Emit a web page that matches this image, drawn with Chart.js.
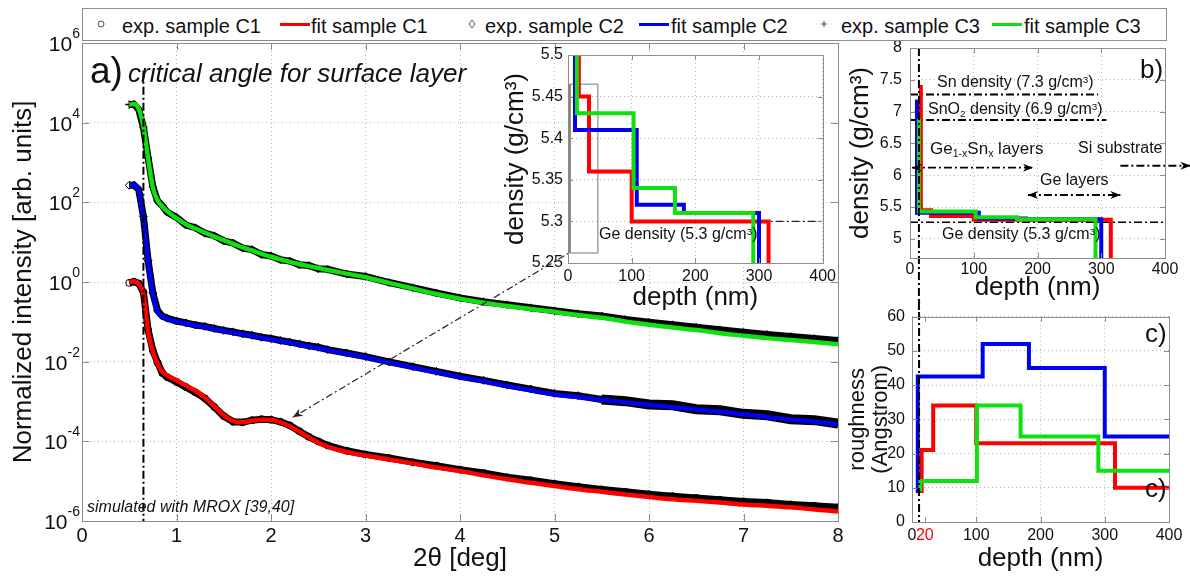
<!DOCTYPE html>
<html>
<head>
<meta charset="utf-8">
<script src="https://cdn.jsdelivr.net/npm/chart.js@4.4.0/dist/chart.umd.min.js"></script>
<style>
  body { margin: 0; background: #fff; width: 1190px; height: 576px; overflow: hidden; position: relative;
         font-family: "Liberation Sans", Arial, Helvetica, sans-serif; }
  canvas { position: absolute; }
  .t { position: absolute; white-space: nowrap; color: #111; line-height: 1; }
  .it { font-style: italic; }
  .up { position: relative; top: -0.45em; font-size: 0.62em; }
  .dn { position: relative; top: 0.3em; font-size: 0.62em; }
  #legend { position: absolute; left: 82px; top: 8px; width: 1083px; height: 31px; border: 1px solid #8c8c8c; background: #fff; }
  #legend .t { font-size: 20px; top: 7px; }
  #legend .ln { position: absolute; top: 14px; height: 3px; width: 30px; }
  #legend svg { position: absolute; top: 10px; }
</style>
</head>
<body>
<canvas id="main" width="1190" height="576" style="left:0;top:0"></canvas>
<canvas id="inset" width="345" height="280" style="left:495px;top:38px"></canvas>
<canvas id="profile" width="360" height="280" style="left:830px;top:30px"></canvas>
<canvas id="rough" width="360" height="276" style="left:830px;top:300px"></canvas>

<div id="legend">
  <svg width="10" height="10" style="left:13px"><circle cx="5" cy="5" r="3" fill="none" stroke="#555" stroke-width="1"/></svg>
  <span class="t" style="left:39px">exp. sample C1</span>
  <div class="ln" style="left:197px;background:#ff0000"></div>
  <span class="t" style="left:228px">fit sample C1</span>
  <svg width="10" height="10" style="left:384px"><path d="M5 1 L8 5 L5 9 L2 5 Z" fill="none" stroke="#555" stroke-width="1"/></svg>
  <span class="t" style="left:402px">exp. sample C2</span>
  <div class="ln" style="left:556px;background:#0000f0"></div>
  <span class="t" style="left:588px">fit sample C2</span>
  <svg width="10" height="10" style="left:736px"><path d="M5 2 L5 8 M2 5 L8 5" stroke="#555" stroke-width="1.2"/></svg>
  <span class="t" style="left:758px">exp. sample C3</span>
  <div class="ln" style="left:909px;background:#10e010"></div>
  <span class="t" style="left:941px">fit sample C3</span>
</div>

<span class="t" style="left:90px;top:52px;font-size:37px">a)</span>
<span class="t it" style="left:128px;top:60px;font-size:26px">critical angle for surface layer</span>
<span class="t it" style="left:87px;top:499px;font-size:16px">simulated with MROX [39,40]</span>
<span class="t" style="left:599px;top:226px;font-size:16px">Ge density (5.3 g/cm<span class="up">3</span>)</span>

<span class="t" style="left:937px;top:74px;font-size:16px">Sn density (7.3 g/cm<span class="up">3</span>)</span>
<span class="t" style="left:928px;top:101px;font-size:16px">SnO<span class="dn">2</span> density (6.9 g/cm<span class="up">3</span>)</span>
<span class="t" style="left:930px;top:140px;font-size:17px">Ge<span class="dn">1-x</span>Sn<span class="dn">x</span> layers</span>
<span class="t" style="left:1078px;top:140px;font-size:16px">Si substrate</span>
<span class="t" style="left:1040px;top:172px;font-size:16px">Ge layers</span>
<span class="t" style="left:942px;top:226px;font-size:16px">Ge density (5.3 g/cm<span class="up">3</span>)</span>
<span class="t" style="left:1140px;top:56px;font-size:26px">b)</span>
<span class="t" style="left:1145px;top:320px;font-size:26px">c)</span>
<span class="t" style="left:1145px;top:475px;font-size:26px">c)</span>

<script>
// ---- panel a: reflectivity curves ----
const thetaDeg = [0.50, 0.55, 0.60, 0.65, 0.70, 0.75, 0.80, 0.85, 0.90,
  1.00, 1.10, 1.20, 1.30, 1.40, 1.50, 1.60, 1.70, 1.80, 1.90, 2.00, 2.10, 2.20, 2.30, 2.40, 2.50, 2.60,
  2.80, 3.00,
  3.25, 3.50, 3.75, 4.00, 4.25, 4.50, 4.75, 5.00, 5.25, 5.50, 5.75, 6.00, 6.25, 6.50, 6.75, 7.00, 7.25, 7.50, 7.75, 8.00];

const fitC1 = [1.0, 1.05, 0.89, 0.5, 5.6e-2, 1.8e-2, 8.9e-3, 5.6e-3, 4.5e-3,
  3.4e-3, 2.5e-3, 1.86e-3, 1.26e-3, 7.6e-4, 4.5e-4, 3.2e-4, 3.0e-4, 3.3e-4, 3.5e-4, 3.5e-4, 3.0e-4, 2.4e-4, 1.74e-4, 1.26e-4, 9.3e-5, 7.4e-5,
  5.4e-5, 4.4e-5,
  3.5e-5, 2.8e-5, 2.2e-5, 1.8e-5, 1.4e-5, 1.12e-5, 9.1e-6, 7.6e-6, 6.3e-6, 5.4e-6, 4.6e-6, 4.0e-6, 3.5e-6, 3.2e-6, 2.9e-6, 2.6e-6, 2.4e-6, 2.2e-6, 1.95e-6, 1.74e-6];
const expC1 = [0.95, 1.02, 0.92, 0.55, 6.2e-2, 1.9e-2, 9.4e-3, 5.2e-3, 4.1e-3,
  3.1e-3, 2.3e-3, 1.7e-3, 1.2e-3, 7.3e-4, 4.3e-4, 3.1e-4, 3.0e-4, 3.4e-4, 3.6e-4, 3.5e-4, 3.1e-4, 2.5e-4, 1.8e-4, 1.3e-4, 1.0e-4, 7.9e-5,
  5.8e-5, 4.7e-5,
  3.8e-5, 3.0e-5, 2.45e-5, 1.95e-5, 1.6e-5, 1.25e-5, 1.05e-5, 8.6e-6, 7.3e-6, 6.2e-6, 5.4e-6, 4.7e-6, 4.2e-6, 3.8e-6, 3.4e-6, 3.1e-6, 2.9e-6, 2.6e-6, 2.4e-6, 2.2e-6];

const fitC2 = [263, 275, 200, 40, 3.16, 0.5, 0.178, 0.135, 0.12,
  0.102, 0.091, 0.081, 0.074, 0.066, 0.059, 0.054, 0.049, 0.044, 0.040, 0.036, 0.033, 0.030, 0.027, 0.024, 0.022, 0.0195,
  0.0158, 0.0129,
  0.0095, 0.0071, 0.0054, 0.0041, 0.0032, 0.00245, 0.0019, 0.0015, 0.00129, 0.0011, 0.00095, 0.00083, 0.00072, 0.00063, 0.00055, 0.00048, 0.00041, 0.00035, 0.00031, 0.00027];
const expC2 = [268, 270, 210, 44, 3.4, 0.53, 0.19, 0.14, 0.124,
  0.105, 0.094, 0.083, 0.077, 0.068, 0.061, 0.056, 0.050, 0.046, 0.041, 0.038, 0.034, 0.031, 0.028, 0.025, 0.023, 0.020,
  0.0165, 0.0134,
  0.0099, 0.0075, 0.0057, 0.0043, 0.0034, 0.0026, 0.00205, 0.0016, 0.0014, 0.00112, 0.00102, 0.00084, 0.0008, 0.00064, 0.0006, 0.00049, 0.00045, 0.00036, 0.00034, 0.00028];

const fitC3 = [28200, 29500, 22400, 7940, 1260, 234, 112, 79, 60,
  40, 28, 22, 17.4, 13.8, 11.2, 9.1, 7.4, 6.2, 5.1, 4.3, 3.7, 3.2, 2.8, 2.5, 2.24, 2.0,
  1.62, 1.32,
  0.95, 0.69, 0.5, 0.38, 0.30, 0.25, 0.21, 0.178, 0.148, 0.126, 0.102, 0.085, 0.072, 0.062, 0.052, 0.045, 0.039, 0.035, 0.031, 0.0275];
const expC3 = [28500, 29000, 21500, 7600, 1300, 245, 108, 82, 57,
  42, 27, 23, 16.8, 14.5, 10.8, 9.5, 7.1, 6.5, 4.9, 4.5, 3.6, 3.35, 2.7, 2.6, 2.15, 2.08,
  1.58, 1.38,
  0.97, 0.72, 0.53, 0.40, 0.32, 0.27, 0.225, 0.19, 0.16, 0.14, 0.115, 0.098, 0.085, 0.073, 0.063, 0.055, 0.048, 0.043, 0.038, 0.034];

const intensityTicks = [1e-6, 1e-4, 1e-2, 1, 1e2, 1e4, 1e6];
const criticalTheta = [0.65, 0.65];
const criticalLevel = [2e5, 1e-6];
const zoomArrowTheta = [5.24, 2.23];
const zoomArrowLevel = [7.1, 4e-4];

// ---- density profiles (inset and panel b) ----
const depthC1 = [17, 17, 33, 33, 100, 100, 315, 315];
const densC1 = [7.42, 5.45, 5.45, 5.36, 5.36, 5.30, 5.30, 4.6];
const depthC2 = [11, 11, 108, 108, 182, 182, 300, 300];
const densC2 = [7.19, 5.41, 5.41, 5.32, 5.32, 5.31, 5.31, 4.6];
const depthC3 = [14, 14, 103, 103, 168, 168, 291, 291];
const densC3 = [6.89, 5.43, 5.43, 5.34, 5.34, 5.31, 5.31, 4.6];

const zoomBoxDepth = [3, 47, 47, 3, 3];
const zoomBoxDens = [5.262, 5.262, 5.465, 5.465, 5.262];
const insetGeDepth = [100, 400];
const insetGeDens = [5.3, 5.3];
const insetDepthTicks = [0, 100, 200, 300, 400];
const insetDensTicks = [5.25, 5.3, 5.35, 5.4, 5.45, 5.5];

const snRefDepth = [0, 295], snRefDens = [7.27, 7.27];
const sno2RefDepth = [0, 308], sno2RefDens = [6.87, 6.87];
const geRefDepth = [0, 400], geRefDens = [5.26, 5.26];
const surfaceMarkDepth = [14, 14], surfaceMarkDens = [8, 3.8];
const geSnArrowDepth = [3, 193], geSnArrowDens = [6.12, 6.12];
const geArrowDepth = [185, 330], geArrowDens = [5.69, 5.69];
const siArrowDepth = [330, 440], siArrowDens = [6.15, 6.15];
const profileDepthTicks = [0, 100, 200, 300, 400];
const profileDensTicks = [5, 5.5, 6, 6.5, 7, 7.5, 8];

// ---- panel c: roughness ----
const roughDepthC1 = [15, 15, 33, 33, 100, 100, 316, 316, 400];
const roughC1 = [8.5, 21, 21, 34, 34, 23, 23, 10, 10];
const roughDepthC2 = [9, 9, 110, 110, 182, 182, 300, 300, 400];
const roughC2 = [8.5, 42.5, 42.5, 52, 52, 45, 45, 25, 25];
const roughDepthC3 = [13, 13, 101, 101, 169, 169, 290, 290, 400];
const roughC3 = [9, 12, 12, 34, 34, 25, 25, 15, 15];
const roughMarkDepth = [11, 11], roughMarkLevel = [66, 0];
const roughDepthTicks = [0, 20, 100, 200, 300, 400];
const roughTicks = [0, 10, 20, 30, 40, 50, 60];

const FONT = '"Liberation Sans", Arial, Helvetica, sans-serif';
const RED = '#ff0000', BLUE = '#0000f0', GREEN = '#10e010';
const GRID = '#b4b4b4', FRAME = '#8c8c8c';
const DASHDOT = [8, 3, 2, 3];

Chart.defaults.font.family = FONT;
Chart.defaults.color = '#111';

const xy = (xs, ys) => xs.map((x, i) => ({ x, y: ys[i] }));
const setTicks = vals => s => { s.ticks = vals.map(v => ({ value: v })); };

// white plot area, box and inward tick marks like MATLAB axes
const frame = {
  id: 'frame',
  beforeDraw(chart) {
    const { ctx, chartArea: a } = chart;
    ctx.save();
    ctx.fillStyle = '#fff';
    ctx.fillRect(a.left, a.top, a.width, a.height);
    ctx.restore();
  },
  afterDatasetsDraw(chart, args, opts) {
    const { ctx, chartArea: a } = chart;
    const L = opts.tick || 5;
    ctx.save();
    ctx.strokeStyle = FRAME;
    ctx.lineWidth = 1;
    ctx.beginPath();
    chart.scales.x.ticks.forEach(t => {
      const p = Math.round(chart.scales.x.getPixelForValue(t.value)) + 0.5;
      ctx.moveTo(p, a.bottom); ctx.lineTo(p, a.bottom - L);
      ctx.moveTo(p, a.top); ctx.lineTo(p, a.top + L);
    });
    chart.scales.y.ticks.forEach(t => {
      const p = Math.round(chart.scales.y.getPixelForValue(t.value)) + 0.5;
      ctx.moveTo(a.left, p); ctx.lineTo(a.left + L, p);
      ctx.moveTo(a.right, p); ctx.lineTo(a.right - L, p);
    });
    ctx.stroke();
    ctx.strokeRect(Math.round(a.left) + 0.5, Math.round(a.top) + 0.5, Math.round(a.width), Math.round(a.height));
    ctx.restore();
  }
};

const arrowHeads = {
  id: 'arrowHeads',
  afterDatasetsDraw(chart) {
    const ctx = chart.ctx;
    chart.data.datasets.forEach((ds, i) => {
      if (!ds.arrowAt) return;
      const pts = chart.getDatasetMeta(i).data;
      ds.arrowAt.forEach(end => {
        const p = end === 'end' ? pts[pts.length - 1] : pts[0];
        const q = end === 'end' ? pts[pts.length - 2] : pts[1];
        const ang = Math.atan2(p.y - q.y, p.x - q.x);
        ctx.save();
        ctx.translate(p.x, p.y);
        ctx.rotate(ang);
        ctx.fillStyle = ds.borderColor;
        ctx.beginPath();
        ctx.moveTo(0, 0);
        ctx.lineTo(-10, -4);
        ctx.lineTo(-7, 0);
        ctx.lineTo(-10, 4);
        ctx.closePath();
        ctx.fill();
        ctx.restore();
      });
    });
  }
};

// 10^n labels for the log axis
const powerLabels = {
  id: 'powerLabels',
  afterDraw(chart) {
    const { ctx } = chart;
    const ys = chart.scales.y;
    ctx.save();
    ctx.fillStyle = '#111';
    ctx.textAlign = 'right';
    ctx.textBaseline = 'alphabetic';
    intensityTicks.forEach(v => {
      const y = ys.getPixelForValue(v);
      const e = String(Math.round(Math.log10(v)));
      ctx.font = '14px ' + FONT;
      const ew = ctx.measureText(e).width;
      ctx.fillText(e, 80, y - 5);
      ctx.font = '21px ' + FONT;
      ctx.fillText('10', 80 - ew, y + 8);
    });
    ctx.restore();
  }
};

const lineSet = (data, color, width, extra) => Object.assign({
  data, borderColor: color, borderWidth: width, pointRadius: 0, fill: false
}, extra || {});

// ---- panel a ----
new Chart(document.getElementById('main'), {
  type: 'line',
  data: {
    datasets: [
      lineSet(xy(criticalTheta, criticalLevel), '#000', 2, { borderDash: DASHDOT, order: 0 }),
      lineSet(xy(zoomArrowTheta, zoomArrowLevel), '#222', 1.2, { borderDash: [7, 3, 2, 3], order: 0, arrowAt: ['end'] }),
      lineSet(xy(thetaDeg, fitC3), GREEN, 4.5, { cubicInterpolationMode: 'monotone', order: 1 }),
      lineSet(xy(thetaDeg, fitC2), BLUE, 4.5, { cubicInterpolationMode: 'monotone', order: 1 }),
      lineSet(xy(thetaDeg, fitC1), RED, 4.5, { cubicInterpolationMode: 'monotone', order: 1 }),
      lineSet(xy(thetaDeg, expC3), '#000', 7, { order: 2, pointStyle: 'cross', pointRadius: 4, pointBorderColor: '#000', pointBorderWidth: 1.5 }),
      lineSet(xy(thetaDeg, expC2), '#000', 7, { order: 2, pointStyle: 'rectRot', pointRadius: 4, pointBorderColor: '#000', pointBackgroundColor: 'rgba(0,0,0,0)', pointBorderWidth: 1,
        segment: { borderWidth: s => (s.p0.parsed.x >= 5.5 ? 10 : 7) } }),
      lineSet(xy(thetaDeg, expC1), '#000', 7, { order: 2, pointStyle: 'circle', pointRadius: 3.5, pointBorderColor: '#000', pointBackgroundColor: 'rgba(0,0,0,0)', pointBorderWidth: 1 })
    ]
  },
  options: {
    responsive: false,
    animation: false,
    events: [],
    layout: { padding: { left: 0, top: 43, right: 352, bottom: 0 } },
    plugins: { legend: { display: false }, tooltip: { enabled: false }, frame: { tick: 7 } },
    scales: {
      x: {
        type: 'linear', min: 0, max: 8,
        ticks: { stepSize: 1, font: { size: 20 }, padding: 3, color: '#111' },
        grid: { color: GRID, drawTicks: false },
        border: { display: false, dash: [1, 3] },
        title: { display: true, text: '2θ [deg]', font: { size: 26 }, padding: { top: 0, bottom: 2 } },
        afterFit: s => { s.height = 55; }
      },
      y: {
        type: 'logarithmic', min: 1e-6, max: 1e6,
        afterBuildTicks: setTicks(intensityTicks),
        ticks: { display: false },
        grid: { color: GRID, drawTicks: false },
        border: { display: false, dash: [1, 3] },
        title: { display: true, text: 'Normalized intensity [arb. units]', font: { size: 26 }, padding: { top: 8 } },
        afterFit: s => { s.width = 82; }
      }
    }
  },
  plugins: [frame, arrowHeads, powerLabels]
});

// ---- small panels ----
function panel(id, c) {
  const fmt = v => String(+Number(v).toFixed(2));
  return new Chart(document.getElementById(id), {
    type: 'line',
    data: { datasets: c.datasets },
    options: {
      responsive: false,
      animation: false,
      events: [],
      layout: { padding: { left: 0, top: c.top, right: c.right, bottom: 0 } },
      plugins: { legend: { display: false }, tooltip: { enabled: false }, frame: { tick: 5 } },
      scales: {
        x: {
          type: 'linear', min: c.xMin, max: c.xMax,
          afterBuildTicks: setTicks(c.xTicks),
          ticks: { autoSkip: false, maxRotation: 0, font: { size: 16 }, padding: c.xPad, callback: fmt,
                   color: ctx => (c.redTick !== undefined && ctx.tick && ctx.tick.value === c.redTick) ? RED : '#111' },
          grid: { drawTicks: false,
                  color: ctx => (c.redTick !== undefined && ctx.tick && ctx.tick.value === c.redTick) ? 'rgba(0,0,0,0)' : GRID },
          border: { display: false, dash: [1, 3] },
          title: { display: true, text: c.xTitle, font: { size: 26 }, padding: { top: 0, bottom: c.xTitlePad } },
          afterFit: s => { s.height = c.xHeight; }
        },
        y: {
          type: 'linear', min: c.yMin, max: c.yMax,
          afterBuildTicks: setTicks(c.yTicks),
          ticks: { autoSkip: false, font: { size: 16 }, padding: c.yPad, callback: fmt, color: '#111' },
          grid: { color: GRID, drawTicks: false },
          border: { display: false, dash: [1, 3] },
          title: { display: true, text: c.yTitle, font: { size: c.yTitleSize || 26, lineHeight: 1.05 }, padding: { top: c.yTitlePad } },
          afterFit: s => { s.width = c.yWidth; }
        }
      }
    },
    plugins: [frame, arrowHeads]
  });
}

// inset: zoom of the density profiles
panel('inset', {
  top: 17, right: 15, xHeight: 55, yWidth: 73, xPad: 4, yPad: 5, xTitlePad: 5, yTitlePad: 7,
  xMin: 0, xMax: 400, yMin: 5.25, yMax: 5.5,
  xTicks: insetDepthTicks, yTicks: insetDensTicks,
  xTitle: 'depth (nm)', yTitle: 'density (g/cm³)',
  datasets: [
    lineSet(xy(depthC3, densC3), GREEN, 4, { clip: 0 }),
    lineSet(xy(depthC2, densC2), BLUE, 4, { clip: 0 }),
    lineSet(xy(depthC1, densC1), RED, 4, { clip: 0 }),
    lineSet(xy(insetGeDepth, insetGeDens), '#222', 1.2, { borderDash: DASHDOT }),
    lineSet(xy(zoomBoxDepth, zoomBoxDens), '#777', 1)
  ]
});

// panel b: full density profiles
panel('profile', {
  top: 18, right: 25, xHeight: 52, yWidth: 80, xPad: 1.5, yPad: 8, xTitlePad: 7, yTitlePad: 17,
  xMin: 0, xMax: 400, yMin: 4.7, yMax: 8,
  xTicks: profileDepthTicks, yTicks: profileDensTicks,
  xTitle: 'depth (nm)', yTitle: 'density (g/cm³)',
  datasets: [
    lineSet(xy(surfaceMarkDepth, surfaceMarkDens), '#000', 2, { borderDash: DASHDOT, clip: false }),
    lineSet(xy(geSnArrowDepth, geSnArrowDens), '#000', 1.8, { borderDash: DASHDOT, arrowAt: ['start', 'end'] }),
    lineSet(xy(geArrowDepth, geArrowDens), '#000', 1.8, { borderDash: DASHDOT, arrowAt: ['start', 'end'] }),
    lineSet(xy(siArrowDepth, siArrowDens), '#000', 1.8, { borderDash: DASHDOT, arrowAt: ['end'], clip: false }),
    lineSet(xy(depthC3, densC3), GREEN, 4, { clip: 0 }),
    lineSet(xy(depthC2, densC2), BLUE, 4, { clip: 0 }),
    lineSet(xy(depthC1, densC1), RED, 4, { clip: 0 }),
    lineSet(xy(snRefDepth, snRefDens), '#000', 2, { borderDash: DASHDOT }),
    lineSet(xy(sno2RefDepth, sno2RefDens), '#000', 2, { borderDash: DASHDOT }),
    lineSet(xy(geRefDepth, geRefDens), '#000', 1.5, { borderDash: DASHDOT })
  ]
});

// panel c: interface roughness
panel('rough', {
  top: 16, right: 21, xHeight: 54, yWidth: 82, xPad: 4, yPad: 7, xTitlePad: 2, yTitlePad: 16,
  xMin: 0, xMax: 400, yMin: 0, yMax: 60, redTick: 20,
  xTicks: roughDepthTicks, yTicks: roughTicks,
  xTitle: 'depth (nm)', yTitle: ['roughness', '(Angstrom)'], yTitleSize: 22,
  datasets: [
    lineSet(xy(roughMarkDepth, roughMarkLevel), '#000', 2, { borderDash: DASHDOT, clip: false }),
    lineSet(xy(roughDepthC3, roughC3), GREEN, 4),
    lineSet(xy(roughDepthC1, roughC1), RED, 4),
    lineSet(xy(roughDepthC2, roughC2), BLUE, 4)
  ]
});
</script>
</body>
</html>
